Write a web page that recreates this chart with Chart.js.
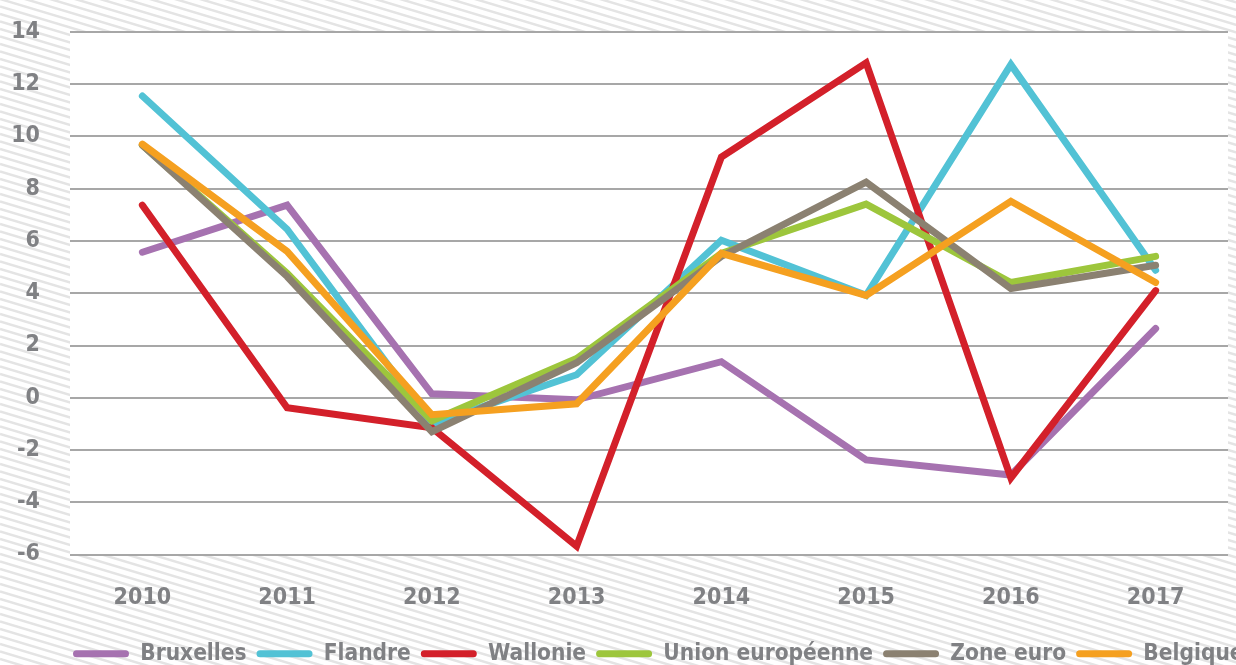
<!DOCTYPE html>
<html>
<head>
<meta charset="utf-8">
<script src="https://cdn.jsdelivr.net/npm/chart.js@4.4.1/dist/chart.umd.min.js"></script>
<style>
  html, body { margin: 0; padding: 0; background: #fff; overflow: hidden; }
  #wrap { width: 1320px; height: 665px; }
</style>
</head>
<body>
<div id="wrap"><canvas id="lineChart" width="1320" height="665"></canvas></div>
<script>
"use strict";

var years = ["2010", "2011", "2012", "2013", "2014", "2015", "2016", "2017"];
var bruxelles = [5.57, 7.37, 0.15, -0.08, 1.38, -2.38, -2.96, 2.65];
var flandre   = [11.55, 6.45, -1.0, 0.88, 6.03, 3.92, 12.75, 4.88];
var wallonie  = [7.37, -0.38, -1.15, -5.68, 9.21, 12.82, -3.07, 4.1];
var unionEu   = [9.67, 4.76, -0.88, 1.5, 5.53, 7.41, 4.41, 5.41];
var zoneEuro  = [9.67, 4.64, -1.3, 1.34, 5.41, 8.25, 4.18, 5.07];
var belgique  = [9.71, 5.6, -0.65, -0.23, 5.53, 3.92, 7.52, 4.41];
var yTicks = [-6, -4, -2, 0, 2, 4, 6, 8, 10, 12, 14];

var FONT = "'DejaVu Sans Condensed', 'Liberation Sans Narrow', sans-serif";
var GREY = "#808184";

// hatched background, white plot area
var hatchBg = {
    id: 'hatchBg',
    beforeDraw: function (chart) {
        var c = chart.ctx, a = chart.chartArea;
        var w = chart.width, h = chart.height;
        c.save();
        c.fillStyle = '#ffffff';
        c.fillRect(0, 0, w, h);
        c.strokeStyle = '#e4e4e4';
        c.lineWidth = 2.5;
        var slope = 0.3;
        for (var y0 = -w * slope - 10; y0 < h + 10; y0 += 7.5) {
            c.beginPath();
            c.moveTo(0, y0);
            c.lineTo(w, y0 + w * slope);
            c.stroke();
        }
        c.fillStyle = '#ffffff';
        c.fillRect(a.left, a.top, a.right - a.left, a.bottom - a.top);
        c.restore();
    }
};

function ds(label, data, color, order) {
    return {
        label: label,
        data: data,
        borderColor: color,
        backgroundColor: color,
        borderWidth: 7,
        borderCapStyle: 'round',
        borderJoinStyle: 'miter',
        pointRadius: 0,
        pointHoverRadius: 0,
        tension: 0,
        order: order
    };
}

var ctx = document.getElementById("lineChart");
var myChart = new Chart(ctx, {
    type: 'line',
    data: {
        labels: years,
        datasets: [
            ds("Bruxelles", bruxelles, "#a672b0", 5),
            ds("Flandre", flandre, "#52c2d5", 4),
            ds("Wallonie", wallonie, "#d3202a", 3),
            ds("Union européenne", unionEu, "#9dc63c", 2),
            ds("Zone euro", zoneEuro, "#8b8171", 1),
            ds("Belgique", belgique, "#f5a020", 0)
        ]
    },
    options: {
        responsive: false,
        animation: false,
        layout: { padding: { left: 0, right: 0, top: 32, bottom: -10 } },
        plugins: {
            tooltip: { enabled: false },
            legend: {
                position: 'bottom',
                labels: {
                    color: GREY,
                    font: { family: FONT, size: 22.5, weight: 'bold' },
                    boxWidth: 56,
                    boxHeight: 7,
                    useBorderRadius: true,
                    borderRadius: 3.5,
                    padding: 10,
                    sort: function (a, b) { return a.datasetIndex - b.datasetIndex; },
                    generateLabels: function (chart) {
                        var items = Chart.defaults.plugins.legend.labels.generateLabels(chart);
                        items.forEach(function (it) { it.lineWidth = 0; });
                        return items;
                    }
                }
            }
        },
        scales: {
            x: {
                offset: true,
                grid: { display: false, drawTicks: false },
                border: { display: false },
                ticks: {
                    color: GREY,
                    padding: 30,
                    maxRotation: 0,
                    font: { family: FONT, size: 23, weight: 'bold' }
                },
                afterFit: function (s) { s.height = 78; }
            },
            y: {
                min: -6,
                max: 14,
                afterBuildTicks: function (s) {
                    s.ticks = yTicks.map(function (v) { return { value: v }; });
                },
                grid: { color: '#a7a7a7', lineWidth: 2, drawTicks: false },
                border: { display: false },
                ticks: {
                    color: GREY,
                    padding: 30,
                    font: { family: FONT, size: 23, weight: 'bold' }
                },
                afterFit: function (s) {
                    s.width = 70;
                    s.paddingTop = 0;
                    s.paddingBottom = 0;
                }
            },
            // empty right-hand spacer so the plot ends at x=1228 while the legend keeps the full width
            spacer: {
                type: 'linear',
                position: 'right',
                grid: { display: false, drawTicks: false },
                border: { display: false },
                ticks: { display: false },
                afterFit: function (s) { s.width = 92; }
            }
        }
    },
    plugins: [hatchBg]
});

// the legend in the original runs off to the right: shift it so it starts near x=73
var lg = myChart.legend;
var origDraw = lg.draw;
lg.draw = function () {
    var shift = 73 - this.legendHitBoxes[0].left;
    this.ctx.save();
    this.ctx.translate(shift, 0);
    origDraw.apply(this, arguments);
    this.ctx.restore();
};
myChart.draw();
</script>
</body>
</html>
